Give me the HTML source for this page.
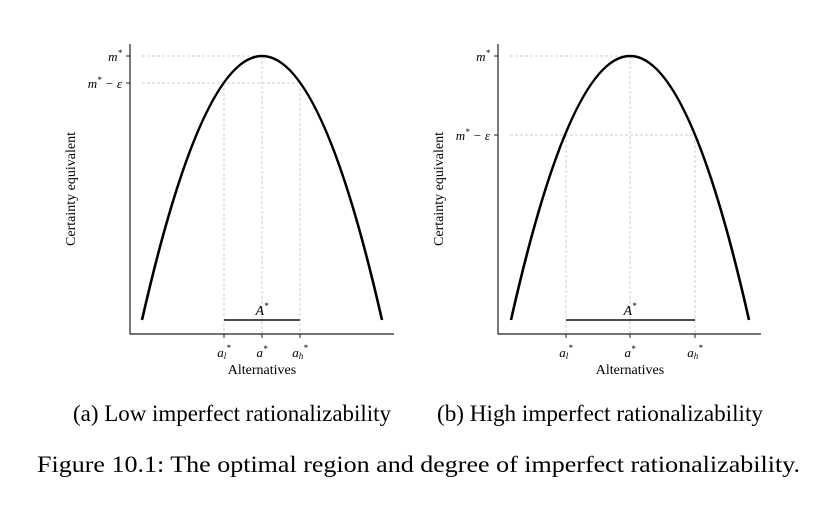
<!DOCTYPE html>
<html><head><style>body{margin:0;background:#fff}</style></head><body>
<svg width="838" height="506" xmlns="http://www.w3.org/2000/svg" font-family="Liberation Serif, serif">
<g id="L">
<g stroke="#ccc" stroke-width="1" stroke-dasharray="3,2" fill="none">
<line x1="142" y1="56" x2="262" y2="56"/><line x1="142" y1="83" x2="300" y2="83"/>
<line x1="224" y1="83" x2="224" y2="334"/><line x1="262" y1="56" x2="262" y2="334"/><line x1="300" y1="83" x2="300" y2="334"/>
</g>
<path d="M142,320 Q262,-208 382,320" stroke="#000" stroke-width="2.6" fill="none"/>
<line x1="224" y1="320" x2="300" y2="320" stroke="#333" stroke-width="1.8"/>
<text x="262" y="315" font-size="14" font-style="italic" text-anchor="middle">A<tspan font-size="9" dy="-6">*</tspan></text>
<path d="M130,44 V334 H394" stroke="#222" stroke-width="1.2" fill="none"/>
<g stroke="#222"><line x1="126" y1="56" x2="130" y2="56"/><line x1="126" y1="83" x2="130" y2="83"/>
<line x1="224" y1="334" x2="224" y2="338"/><line x1="262" y1="334" x2="262" y2="338"/><line x1="300" y1="334" x2="300" y2="338"/></g>
<text x="122" y="61" font-size="13" font-style="italic" text-anchor="end">m<tspan font-size="9" dy="-5">*</tspan></text>
<text x="122" y="88" font-size="13" font-style="italic" text-anchor="end">m<tspan font-size="9" dy="-5">*</tspan><tspan dy="5"> − ε</tspan></text>
<text x="224" y="357" font-size="13" font-style="italic" text-anchor="middle">a<tspan font-size="9" dy="2">l</tspan><tspan font-size="9" dy="-8">*</tspan></text>
<text x="262" y="357" font-size="13" font-style="italic" text-anchor="middle">a<tspan font-size="9" dy="-5">*</tspan></text>
<text x="300" y="357" font-size="13" font-style="italic" text-anchor="middle">a<tspan font-size="9" dy="2">h</tspan><tspan font-size="9" dy="-8">*</tspan></text>
<text x="262" y="374" font-size="14" text-anchor="middle">Alternatives</text>
<text transform="translate(75,189) rotate(-90)" font-size="14" text-anchor="middle">Certainty equivalent</text>
</g>
<g id="R">
<g stroke="#ccc" stroke-width="1" stroke-dasharray="3,2" fill="none">
<line x1="510" y1="56" x2="630" y2="56"/><line x1="510" y1="135" x2="695" y2="135"/>
<line x1="566" y1="135" x2="566" y2="334"/><line x1="630" y1="56" x2="630" y2="334"/><line x1="695" y1="135" x2="695" y2="334"/>
</g>
<path d="M511,320 Q630,-208 749,320" stroke="#000" stroke-width="2.6" fill="none"/>
<line x1="566" y1="320" x2="695" y2="320" stroke="#333" stroke-width="1.8"/>
<text x="630" y="315" font-size="14" font-style="italic" text-anchor="middle">A<tspan font-size="9" dy="-6">*</tspan></text>
<path d="M498,44 V334 H761" stroke="#222" stroke-width="1.2" fill="none"/>
<g stroke="#222"><line x1="494" y1="56" x2="498" y2="56"/><line x1="494" y1="135" x2="498" y2="135"/>
<line x1="566" y1="334" x2="566" y2="338"/><line x1="630" y1="334" x2="630" y2="338"/><line x1="695" y1="334" x2="695" y2="338"/></g>
<text x="490" y="61" font-size="13" font-style="italic" text-anchor="end">m<tspan font-size="9" dy="-5">*</tspan></text>
<text x="490" y="140" font-size="13" font-style="italic" text-anchor="end">m<tspan font-size="9" dy="-5">*</tspan><tspan dy="5"> − ε</tspan></text>
<text x="566" y="357" font-size="13" font-style="italic" text-anchor="middle">a<tspan font-size="9" dy="2">l</tspan><tspan font-size="9" dy="-8">*</tspan></text>
<text x="630" y="357" font-size="13" font-style="italic" text-anchor="middle">a<tspan font-size="9" dy="-5">*</tspan></text>
<text x="695" y="357" font-size="13" font-style="italic" text-anchor="middle">a<tspan font-size="9" dy="2">h</tspan><tspan font-size="9" dy="-8">*</tspan></text>
<text x="630" y="374" font-size="14" text-anchor="middle">Alternatives</text>
<text transform="translate(443,189) rotate(-90)" font-size="14" text-anchor="middle">Certainty equivalent</text>
</g>
<text x="73" y="421" font-size="23" textLength="318" lengthAdjust="spacingAndGlyphs">(a) Low imperfect rationalizability</text>
<text x="437" y="421" font-size="23" textLength="326" lengthAdjust="spacingAndGlyphs">(b) High imperfect rationalizability</text>
<text x="37" y="472" font-size="23" textLength="763" lengthAdjust="spacingAndGlyphs">Figure 10.1: The optimal region and degree of imperfect rationalizability.</text>
</svg>
</body></html>
